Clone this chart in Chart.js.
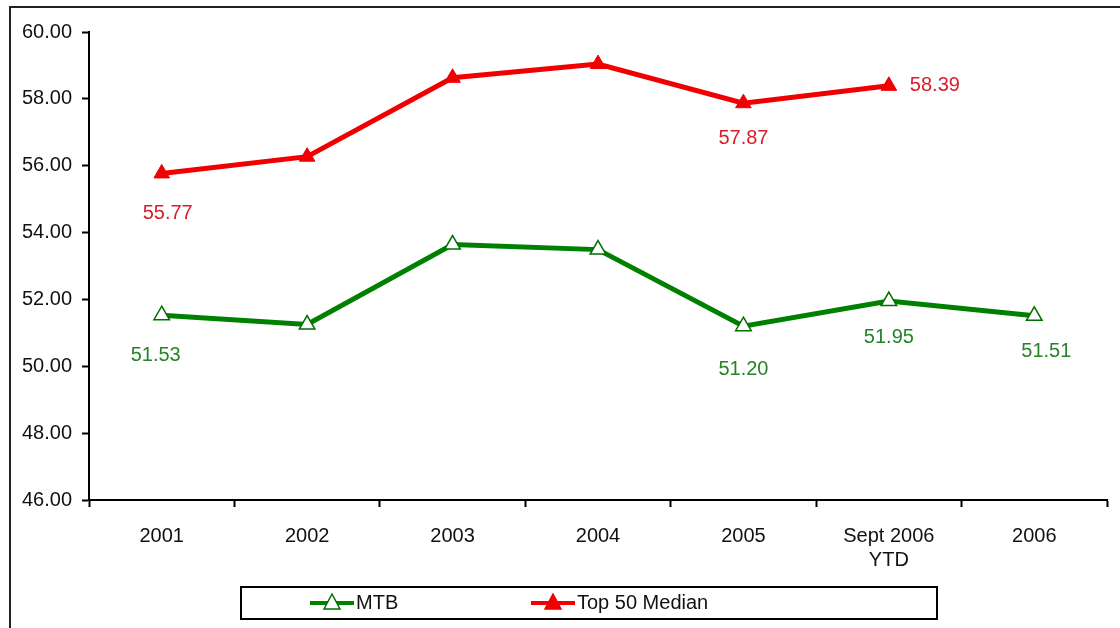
<!DOCTYPE html>
<html>
<head>
<meta charset="utf-8">
<script src="https://cdn.jsdelivr.net/npm/chart.js@4"></script>
<style>
  body { margin: 0; background: #fff; }
  #wrap { width: 1120px; height: 628px; position: relative; }
</style>
</head>
<body>
<div id="wrap"><canvas id="mtbChart"></canvas></div>
<script>
// Chart data
const categories = ["2001", "2002", "2003", "2004", "2005", ["Sept 2006", "YTD"], "2006"];
const mtbValues = [51.53, 51.25, 53.64, 53.49, 51.20, 51.95, 51.51];
const top50Values = [55.77, 56.27, 58.63, 59.04, 57.87, 58.39, null];
const mtbLabels = ["51.53", null, null, null, "51.20", "51.95", "51.51"];
const top50Labels = ["55.77", null, null, null, "57.87", "58.39", null];
const yTicks = [46, 48, 50, 52, 54, 56, 58, 60];

const FONT = "'Liberation Sans', Arial, sans-serif";

// value labels, drawn next to the points
const pointLabels = {
  id: 'pointLabels',
  afterDatasetsDraw(chart) {
    const ctx = chart.ctx;
    ctx.save();
    ctx.font = "20px " + FONT;
    ctx.textBaseline = 'middle';
    ctx.textAlign = 'center';
    chart.data.datasets.forEach((ds, i) => {
      const meta = chart.getDatasetMeta(i);
      meta.data.forEach((pt, j) => {
        const txt = ds.pointText[j];
        if (!txt) return;
        const off = ds.textOffset[j];
        ctx.fillStyle = ds.textColor;
        ctx.fillText(txt, pt.x + off[0], pt.y + off[1]);
      });
    });
    ctx.restore();
  }
};

// outer frame + boxed legend like the spreadsheet one
const frameAndLegend = {
  id: 'frameAndLegend',
  afterDraw(chart) {
    const ctx = chart.ctx;
    ctx.save();
    ctx.strokeStyle = '#222';
    ctx.lineWidth = 2;
    ctx.beginPath();
    ctx.moveTo(10, 640);
    ctx.lineTo(10, 7);
    ctx.lineTo(1125, 7);
    ctx.stroke();

    ctx.strokeStyle = '#000';
    ctx.lineWidth = 2;
    ctx.strokeRect(241, 587, 696, 32);

    const items = [
      { ds: chart.data.datasets[0], x: 310 },
      { ds: chart.data.datasets[1], x: 531 }
    ];
    const y = 603;
    items.forEach(it => {
      ctx.strokeStyle = it.ds.borderColor;
      ctx.lineWidth = 4;
      ctx.beginPath();
      ctx.moveTo(it.x, y);
      ctx.lineTo(it.x + 44, y);
      ctx.stroke();
      const cx = it.x + 22;
      ctx.beginPath();
      ctx.moveTo(cx, y - 9);
      ctx.lineTo(cx + 8, y + 6);
      ctx.lineTo(cx - 8, y + 6);
      ctx.closePath();
      ctx.fillStyle = it.ds.pointBackgroundColor;
      ctx.fill();
      ctx.lineWidth = 1.5;
      ctx.strokeStyle = it.ds.pointBorderColor;
      ctx.stroke();
      ctx.fillStyle = '#111';
      ctx.font = "20px " + FONT;
      ctx.textBaseline = 'middle';
      ctx.textAlign = 'left';
      ctx.fillText(it.ds.label, it.x + 46, y);
    });
    ctx.restore();
  }
};

const data = {
  labels: categories,
  datasets: [
    {
      label: 'MTB',
      data: mtbValues,
      borderColor: 'rgb(0,128,0)',
      borderWidth: 5,
      pointStyle: 'triangle',
      pointRadius: 9,
      pointBackgroundColor: '#fff',
      pointBorderColor: 'rgb(0,110,0)',
      pointBorderWidth: 1.5,
      tension: 0,
      pointText: mtbLabels,
      textColor: 'rgb(40,130,40)',
      textOffset: [[-6, 40], [0, 40], [0, 40], [0, 40], [0, 43], [0, 36], [12, 36]]
    },
    {
      label: 'Top 50 Median',
      data: top50Values,
      borderColor: 'rgb(240,0,0)',
      borderWidth: 5,
      pointStyle: 'triangle',
      pointRadius: 9,
      pointBackgroundColor: 'rgb(240,0,0)',
      pointBorderColor: 'rgb(240,0,0)',
      pointBorderWidth: 1,
      tension: 0,
      spanGaps: false,
      pointText: top50Labels,
      textColor: 'rgb(215,30,40)',
      textOffset: [[6, 40], [0, 40], [0, 40], [0, 40], [0, 35], [46, 0], [0, 0]]
    }
  ]
};

const config = {
  type: 'line',
  data: data,
  options: {
    responsive: true,
    maintainAspectRatio: false,
    animation: false,
    layout: { padding: { left: 0, right: 13, top: 32, bottom: 48 } },
    plugins: {
      legend: { display: false },
      tooltip: { enabled: false }
    },
    scales: {
      x: {
        offset: true,
        grid: {
          offset: true,
          drawOnChartArea: false,
          tickLength: 7,
          tickColor: '#000',
          tickWidth: 2
        },
        border: { color: '#000', width: 2 },
        ticks: {
          color: '#111',
          padding: 17,
          maxRotation: 0,
          font: { family: FONT, size: 20 }
        },
        afterFit(scale) { scale.height = 80; }
      },
      y: {
        min: 46,
        max: 60,
        afterBuildTicks(scale) { scale.ticks = yTicks.map(v => ({ value: v })); },
        grid: {
          drawOnChartArea: false,
          tickLength: 7,
          tickColor: '#000',
          tickWidth: 2
        },
        border: { color: '#000', width: 2 },
        ticks: {
          color: '#111',
          padding: 10,
          font: { family: FONT, size: 20 },
          callback: v => Number(v).toFixed(2)
        },
        afterFit(scale) { scale.width = 89; }
      }
    }
  },
  plugins: [pointLabels, frameAndLegend]
};

const mtbChart = new Chart(document.getElementById('mtbChart'), config);
</script>
</body>
</html>
